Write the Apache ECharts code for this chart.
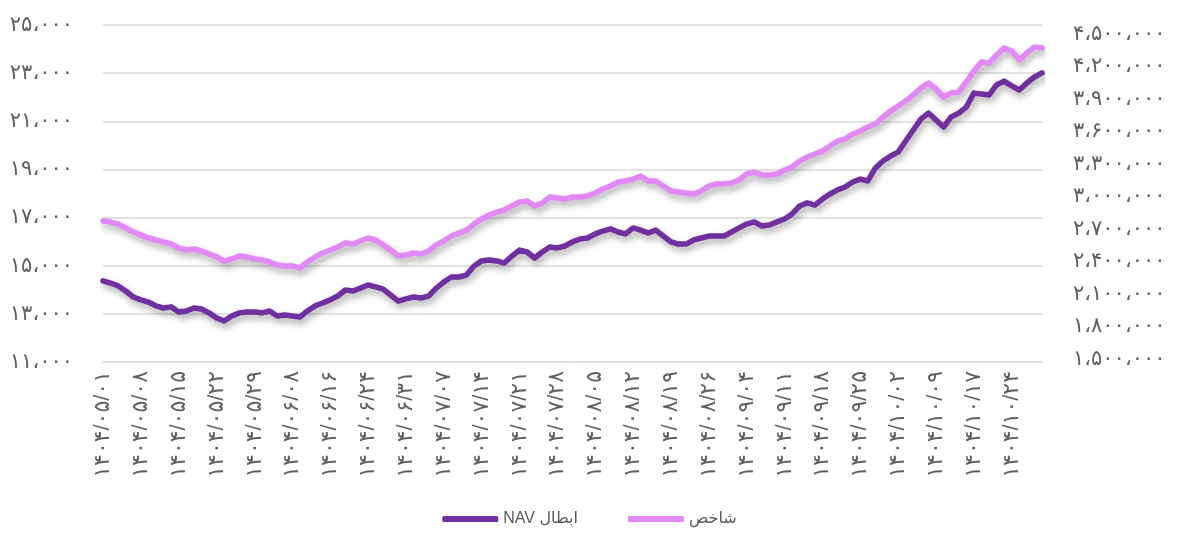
<!DOCTYPE html>
<html>
<head>
<meta charset="utf-8">
<script src="https://cdn.jsdelivr.net/npm/echarts@6/dist/echarts.min.js"></script>
<style>
  html, body { margin: 0; padding: 0; background: #fff; }
  #chart { width: 1179px; height: 540px; }
</style>
</head>
<body>
<div id="chart"></div>
<script>
// trading days (shown every 5th)
var dates = [
  '1404/05/01','1404/05/04','1404/05/05','1404/05/06','1404/05/07',
  '1404/05/08','1404/05/11','1404/05/12','1404/05/13','1404/05/14',
  '1404/05/15','1404/05/18','1404/05/19','1404/05/20','1404/05/21',
  '1404/05/22','1404/05/25','1404/05/26','1404/05/27','1404/05/28',
  '1404/05/29','1404/06/02','1404/06/03','1404/06/04','1404/06/05',
  '1404/06/08','1404/06/09','1404/06/10','1404/06/11','1404/06/15',
  '1404/06/16','1404/06/17','1404/06/18','1404/06/22','1404/06/23',
  '1404/06/24','1404/06/25','1404/06/26','1404/06/29','1404/06/30',
  '1404/06/31','1404/07/01','1404/07/02','1404/07/05','1404/07/06',
  '1404/07/07','1404/07/08','1404/07/09','1404/07/12','1404/07/13',
  '1404/07/14','1404/07/15','1404/07/16','1404/07/19','1404/07/20',
  '1404/07/21','1404/07/22','1404/07/23','1404/07/26','1404/07/27',
  '1404/07/28','1404/07/29','1404/07/30','1404/08/03','1404/08/04',
  '1404/08/05','1404/08/06','1404/08/07','1404/08/10','1404/08/11',
  '1404/08/12','1404/08/13','1404/08/14','1404/08/17','1404/08/18',
  '1404/08/19','1404/08/20','1404/08/21','1404/08/24','1404/08/25',
  '1404/08/26','1404/08/27','1404/09/01','1404/09/02','1404/09/03',
  '1404/09/04','1404/09/05','1404/09/08','1404/09/09','1404/09/10',
  '1404/09/11','1404/09/12','1404/09/15','1404/09/16','1404/09/17',
  '1404/09/18','1404/09/19','1404/09/22','1404/09/23','1404/09/24',
  '1404/09/25','1404/09/26','1404/09/29','1404/09/30','1404/10/01',
  '1404/10/02','1404/10/03','1404/10/06','1404/10/07','1404/10/08',
  '1404/10/09','1404/10/10','1404/10/13','1404/10/14','1404/10/15',
  '1404/10/17','1404/10/20','1404/10/21','1404/10/22','1404/10/23',
  '1404/10/24','1404/10/27','1404/10/28','1404/10/29','1404/10/30'
];

// ابطال NAV (left axis)
var navValues = [
  14370, 14280, 14160, 13950, 13700,
  13580, 13490, 13330, 13240, 13290,
  13080, 13120, 13240, 13200, 13040,
  12830, 12700, 12910, 13040, 13080,
  13080, 13040, 13120, 12910, 12950,
  12910, 12870, 13120, 13330, 13450,
  13580, 13740, 13990, 13950, 14070,
  14200, 14120, 14030, 13780, 13530,
  13620, 13700, 13660, 13740, 14070,
  14320, 14530, 14530, 14610, 14990,
  15200, 15240, 15200, 15110, 15400,
  15650, 15570, 15320, 15570, 15780,
  15740, 15820, 15990, 16110, 16150,
  16320, 16440, 16530, 16400, 16320,
  16570, 16480, 16360, 16480, 16230,
  15990, 15900, 15900, 16070, 16150,
  16230, 16230, 16230, 16400, 16570,
  16730, 16820, 16650, 16690, 16820,
  16940, 17150, 17480, 17610, 17520,
  17770, 17980, 18150, 18270, 18480,
  18600, 18520, 19060, 19350, 19560,
  19720, 20180, 20640, 21090, 21340,
  21050, 20760, 21180, 21340, 21590,
  22170, 22130, 22090, 22510, 22670,
  22470, 22300, 22590, 22840, 23010
];

// شاخص (right axis)
var indexValues = [
  2773000, 2764000, 2745000, 2709000, 2672000,
  2645000, 2617000, 2598000, 2579000, 2561000,
  2525000, 2506000, 2515000, 2497000, 2469000,
  2442000, 2404000, 2423000, 2451000, 2442000,
  2423000, 2414000, 2395000, 2367000, 2359000,
  2359000, 2340000, 2395000, 2442000, 2478000,
  2506000, 2534000, 2570000, 2561000, 2589000,
  2617000, 2598000, 2553000, 2506000, 2451000,
  2460000, 2478000, 2469000, 2497000, 2553000,
  2589000, 2635000, 2662000, 2690000, 2745000,
  2792000, 2829000, 2856000, 2875000, 2912000,
  2949000, 2958000, 2912000, 2939000, 2995000,
  2986000, 2977000, 2995000, 2995000, 3005000,
  3032000, 3069000, 3097000, 3133000, 3143000,
  3161000, 3189000, 3143000, 3143000, 3097000,
  3050000, 3041000, 3032000, 3023000, 3050000,
  3097000, 3116000, 3116000, 3124000, 3152000,
  3208000, 3225000, 3199000, 3199000, 3208000,
  3244000, 3272000, 3327000, 3364000, 3392000,
  3419000, 3466000, 3512000, 3530000, 3577000,
  3604000, 3641000, 3669000, 3734000, 3789000,
  3835000, 3881000, 3937000, 4001000, 4048000,
  3992000, 3918000, 3956000, 3965000, 4057000,
  4158000, 4242000, 4232000, 4306000, 4370000,
  4343000, 4259000, 4325000, 4380000, 4370000
];

var leftTicks = { min: 11000, max: 25000, step: 2000 };
var rightRange = { min: 1472000, max: 4583000 };
var rightTicks = [1500000, 1800000, 2100000, 2400000, 2700000, 3000000,
  3300000, 3600000, 3900000, 4200000, 4500000];

var FA = '۰۱۲۳۴۵۶۷۸۹';
function toFa(s) {
  return String(s).replace(/[0-9]/g, function (d) { return FA[+d]; });
}
function faNum(n) {
  var s = String(Math.round(n)).replace(/\B(?=(\d{3})+(?!\d))/g, '،');
  return toFa(s);
}

var fontStack = '"Liberation Sans", "DejaVu Sans", sans-serif';
var grey = '#595959';
var shadow = {
  shadowColor: 'rgba(0,0,0,0.35)',
  shadowBlur: 7,
  shadowOffsetX: 2,
  shadowOffsetY: 4
};

var chart = echarts.init(document.getElementById('chart'));
chart.setOption({
  animation: false,
  color: ['#7030a0', '#e288f7'],
  textStyle: { fontFamily: fontStack },
  grid: { left: 103, right: 137, top: 25, bottom: 178, containLabel: false },
  legend: {
    bottom: 8,
    left: 'center',
    itemWidth: 56,
    itemHeight: 6,
    itemGap: 50,
    icon: 'roundRect',
    data: ['ابطال NAV', 'شاخص'],
    formatter: function (name) { return '\u202B' + name + '\u202C'; },
    textStyle: { fontSize: 16, color: grey, fontFamily: fontStack }
  },
  xAxis: {
    type: 'category',
    data: dates,
    boundaryGap: false,
    axisLine: { show: true, lineStyle: { color: '#d9d9d9', width: 1 } },
    axisTick: { show: false },
    axisLabel: {
      interval: 4,
      rotate: 90,
      margin: 9,
      color: '#606060',
      fontSize: 22,
      fontFamily: fontStack,
      formatter: function (v) { return toFa(v); }
    }
  },
  yAxis: [
    {
      type: 'value',
      min: leftTicks.min,
      max: leftTicks.max,
      interval: leftTicks.step,
      axisLine: { show: false },
      axisTick: { show: false },
      splitLine: { lineStyle: { color: '#d9d9d9', width: 1.5 } },
      axisLabel: {
        margin: 30,
        color: '#606060',
        fontSize: 21,
        fontFamily: fontStack,
        padding: [0, 0, 24, 0],
        formatter: faNum
      }
    },
    {
      type: 'value',
      position: 'right',
      min: rightRange.min,
      max: rightRange.max,
      axisLine: { show: false },
      axisTick: { show: false },
      splitLine: { show: false },
      axisLabel: {
        customValues: rightTicks,
        margin: 31,
        color: '#606060',
        fontSize: 21,
        fontFamily: fontStack,
        formatter: faNum
      }
    }
  ],
  series: [
    {
      name: 'ابطال NAV',
      type: 'line',
      yAxisIndex: 0,
      data: navValues,
      showSymbol: false,
      lineStyle: Object.assign({ width: 5.5, cap: 'round', join: 'round' }, shadow)
    },
    {
      name: 'شاخص',
      type: 'line',
      yAxisIndex: 1,
      data: indexValues,
      showSymbol: false,
      lineStyle: Object.assign({ width: 5.5, cap: 'round', join: 'round' }, shadow)
    }
  ]
});
</script>
</body>
</html>
